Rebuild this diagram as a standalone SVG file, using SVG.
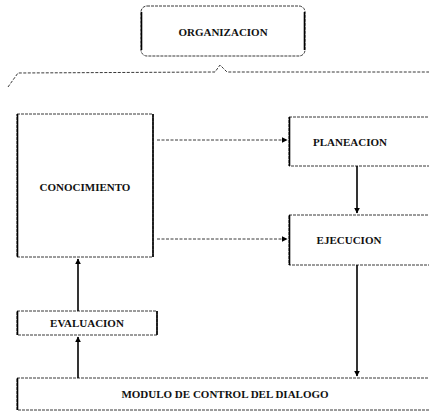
<svg xmlns="http://www.w3.org/2000/svg" width="429" height="414" viewBox="0 0 429 414">
<defs>
<style>
.box{fill:#fff;stroke:#222;stroke-width:0.9;stroke-dasharray:3 1}
.edge{stroke:#000;stroke-width:1.6;fill:none}
.lbl{font-family:"Liberation Serif",serif;font-weight:bold;font-size:11px;fill:#111;text-anchor:middle}
.solid{stroke:#000;stroke-width:1.6;fill:none}
.dash{stroke:#222;stroke-width:0.9;fill:none;stroke-dasharray:3 1.5}
</style>
<marker id="ah" viewBox="0 0 10 10" refX="9" refY="5" markerWidth="6" markerHeight="6" orient="auto" markerUnits="userSpaceOnUse">
<path d="M0,0 L10,5 L0,10 z" fill="#000"/>
</marker>
</defs>
<rect width="429" height="414" fill="#fff"/>

<g id="organizacion">
<rect x="141" y="6" width="164" height="50" rx="6" class="box"/>
<line x1="141.5" y1="12" x2="141.5" y2="50" class="edge"/>
<line x1="304.5" y1="12" x2="304.5" y2="50" class="edge"/>
<text x="223" y="36" class="lbl">ORGANIZACION</text>
</g>

<g id="brace">
<path d="M8,87 L18,73 L215,72 L220,65 L227,72 L429,72" class="dash"/>
</g>

<g id="conocimiento">
<rect x="17" y="114" width="136" height="143" class="box"/>
<line x1="17.5" y1="114" x2="17.5" y2="257" class="edge"/>
<line x1="153" y1="114" x2="153" y2="257" class="edge"/>
<text x="85" y="191" class="lbl">CONOCIMIENTO</text>
</g>

<g id="planeacion">
<rect x="289" y="117" width="142" height="49" class="box"/>
<line x1="289.5" y1="117" x2="289.5" y2="166" class="edge"/>
<text x="350" y="146" class="lbl">PLANEACION</text>
</g>

<g id="ejecucion">
<rect x="289" y="215" width="142" height="50" class="box"/>
<line x1="289.5" y1="215" x2="289.5" y2="265" class="edge"/>
<text x="349" y="244" class="lbl">EJECUCION</text>
</g>

<g id="evaluacion">
<rect x="17" y="311" width="140" height="24" class="box"/>
<line x1="17.5" y1="311" x2="17.5" y2="335" class="edge"/>
<line x1="157" y1="311" x2="157" y2="335" class="edge"/>
<text x="87" y="327" class="lbl">EVALUACION</text>
</g>

<g id="modulo">
<rect x="17" y="378" width="416" height="32" class="box"/>
<line x1="17.5" y1="378" x2="17.5" y2="410" class="edge"/>
<text x="225" y="398" class="lbl">MODULO DE CONTROL DEL DIALOGO</text>
</g>

<g id="connectors">
<line x1="157" y1="140" x2="287" y2="140" class="dash" marker-end="url(#ah)"/>
<line x1="157" y1="239" x2="287" y2="239" class="dash" marker-end="url(#ah)"/>
<line x1="357" y1="166" x2="357" y2="213" class="solid" marker-end="url(#ah)"/>
<line x1="357" y1="265" x2="357" y2="376" class="solid" marker-end="url(#ah)"/>
<line x1="78" y1="311" x2="78" y2="259" class="solid" marker-end="url(#ah)"/>
<line x1="78" y1="378" x2="78" y2="337" class="solid" marker-end="url(#ah)"/>
</g>
</svg>
